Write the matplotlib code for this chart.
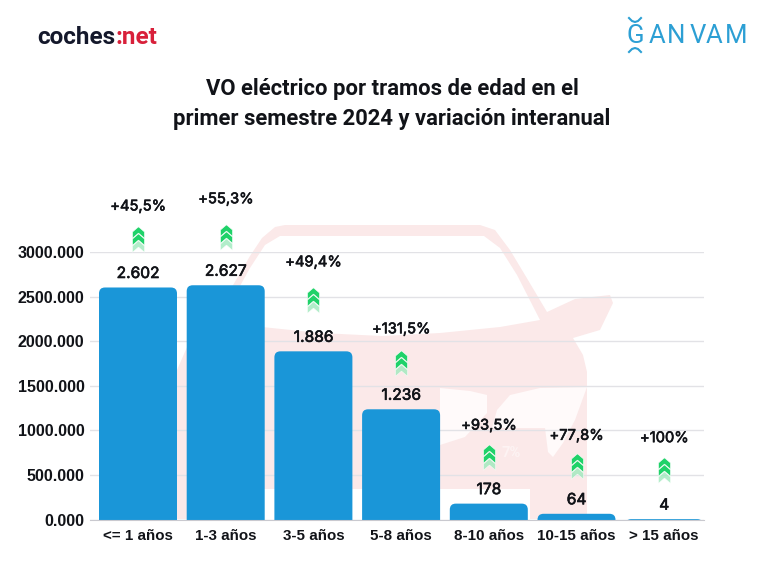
import matplotlib
matplotlib.use("Agg")
import matplotlib.pyplot as plt
import matplotlib.patheffects as pe
from matplotlib.patches import FancyBboxPatch, Polygon
from matplotlib.path import Path
from matplotlib.transforms import ScaledTranslation

plt.rcParams["font.family"] = ["Roboto", "DejaVu Sans"]

# data
categories = ["<= 1 años", "1-3 años", "3-5 años", "5-8 años", "8-10 años", "10-15 años", "> 15 años"]
units = [2602, 2627, 1886, 1236, 178, 64, 4]
unit_labels = ["2.602", "2.627", "1.886", "1.236", "178", "64", "4"]
variation = ["+45,5%", "+55,3%", "+49,4%", "+131,5%", "+93,5%", "+77,8%", "+100%"]
y_ticks = [0, 500, 1000, 1500, 2000, 2500, 3000]
y_tick_labels = ["0.000", "500.000", "1000.000", "1500.000", "2000.000", "2500.000", "3000.000"]

# layout, pixels above the bar top
pct_offset = [81, 86, 89, 80, 78, 78, 81]
arrow_offset = [48, 48, 51, 46, 47, 48, 49]

W, H = 768, 576
BLUE = "#1a96d8"
INK = "#111318"
PINK = "#fbe9e9"
GREEN = "#1fd269"
LABEL_FONT = ["Liberation Sans", "DejaVu Sans"]
HEAVIER = [pe.withStroke(linewidth=0.45, foreground=INK)]  # Inter only comes in regular here

fig = plt.figure(figsize=(W / 100, H / 100), dpi=100, facecolor="white")

# ── background layer in pixel coordinates ─────────────────────────────
bg = fig.add_axes([0, 0, 1, 1], zorder=0)
bg.set_xlim(0, W)
bg.set_ylim(H, 0)
bg.axis("off")

body = [(177, 519), (177, 370), (191, 338), (217, 313), (236, 280), (250, 256), (262, 238), (275, 227),
        (285, 225), (480, 225), (495, 230), (510, 250), (528, 280), (547, 312), (575, 299), (610, 295),
        (613, 303), (600, 330), (573, 338), (583, 355), (587, 372), (587, 519), (530, 519), (530, 489),
        (234, 489), (234, 519)]
bg.add_patch(Polygon(body, closed=True, fc=PINK, ec="none"))
windshield = [(540, 320), (500, 327), (440, 333), (382, 336), (320, 333), (262, 327), (224, 320), (235, 295),
              (250, 268), (265, 245), (280, 236), (484, 236), (500, 248), (517, 275)]
bg.add_patch(Polygon(windshield, closed=True, fc="white", ec="none"))
headlight = [(587, 387), (540, 388), (510, 395), (497, 410), (492, 428), (545, 428), (548, 452), (553, 457),
             (563, 443), (575, 420)]
bg.add_patch(Polygon(headlight, closed=True, fc="#fffafa", ec="none"))
grille = [(440, 388), (470, 391), (487, 395), (487, 413), (465, 437), (440, 445)]
bg.add_patch(Polygon(grille, closed=True, fc="#fffafa", ec="none"))

# logos
bg.text(37, 37, "coches", fontsize=17.5, fontweight="bold", color="#14182b", va="center", ha="left")
bg.text(157, 37, ":net", fontsize=17.5, fontweight="bold", color="#d8203a", va="center", ha="right")
ganvam_x = [635, 657.5, 676.5, 697.5, 714.5, 736]
for ch, x in zip("GANVAM", ganvam_x):
    bg.text(x, 36, ch, fontsize=18.5, fontweight="normal", color="#2c9fd4", va="center", ha="center")
bg.plot([629, 632, 635, 638, 641], [18, 21, 22, 21, 18], color="#2c9fd4", lw=1.5)
bg.plot([629, 632, 635, 638, 641], [52, 49, 48, 49, 52], color="#2c9fd4", lw=1.5)

# title
bg.text(392, 89, "VO eléctrico por tramos de edad en el", fontsize=15.8, fontweight="bold",
        color=INK, ha="center", va="center")
bg.text(392, 119, "primer semestre 2024 y variación interanual", fontsize=15.8, fontweight="bold",
        color=INK, ha="center", va="center")

# ── chart ─────────────────────────────────────────────────────────────
left, right, top, bottom = 90, 704, 252, 519.5
ax = fig.add_axes([left / W, 1 - bottom / H, (right - left) / W, (bottom - top) / H], zorder=1)
ax.patch.set_alpha(0)
step = 87.7
ax.set_xlim((left - 138) / step, (right - 138) / step)
ax.set_ylim(0, 3000)

for s in ["top", "left", "right"]:
    ax.spines[s].set_visible(False)
ax.spines["bottom"].set_color("#c9c9cf")
ax.grid(axis="y", color="#e2e2e6", linewidth=1)
ax.set_axisbelow(True)
ax.tick_params(length=0)
ax.set_yticks(y_ticks, y_tick_labels, fontsize=11.6, fontweight="bold", color=INK, family=LABEL_FONT)
ax.set_xticks(range(len(categories)), categories, fontsize=10.9, fontweight="bold", color=INK, family=LABEL_FONT)
ax.tick_params(axis="y", pad=4)
ax.tick_params(axis="x", pad=7)

# rounded tops: the box runs below zero and the axes clip the lower corners
bar_w = 78 / step
px_x = 1 / step
px_y = 3000 / (bottom - top)
for i, v in enumerate(units):
    ax.add_patch(FancyBboxPatch((i - bar_w / 2, -300), bar_w, v + 300,
                                boxstyle=f"round,pad=0,rounding_size={6 * px_x}",
                                mutation_aspect=px_y / px_x, fc=BLUE, ec="none", zorder=2))

chevron = Path([(-1, 0.1), (0, 0.95), (1, 0.1), (1, -0.95), (0, -0.1), (-1, -0.95), (-1, 0.1)], closed=True)
for i, v in enumerate(units):
    ax.annotate(unit_labels[i], (i, v), xytext=(0, 14 * 0.72), textcoords="offset points",
                ha="center", va="center", fontsize=11.2, color=INK, zorder=4, family="Inter",
                path_effects=HEAVIER)
    ax.annotate(variation[i], (i, v), xytext=(0, pct_offset[i] * 0.72), textcoords="offset points",
                ha="center", va="center", fontsize=10.6, color=INK, zorder=4, family="Inter",
                path_effects=HEAVIER)
    # three stacked chevrons, the lowest one fading out
    for dy, col, a in [(-7, "#9fe9bd", 0.8), (0, GREEN, 1), (7, GREEN, 1)]:
        tr = ax.transData + ScaledTranslation(0, (arrow_offset[i] + dy) / 100, fig.dpi_scale_trans)
        ax.plot([i], [v], marker=chevron, markersize=8.6, mfc=col, mec="white", mew=0.4, alpha=a,
                transform=tr, clip_on=False, zorder=3, linestyle="none")

# leftover label ghost next to the 8-10 arrow
ax.annotate("7%", (4, units[4]), xytext=(22 * 0.72, 51 * 0.72), textcoords="offset points",
            ha="center", va="center", fontsize=10.6, fontweight="bold", color="#fdf3f3", zorder=1)

fig.savefig("out.png", dpi=100)
